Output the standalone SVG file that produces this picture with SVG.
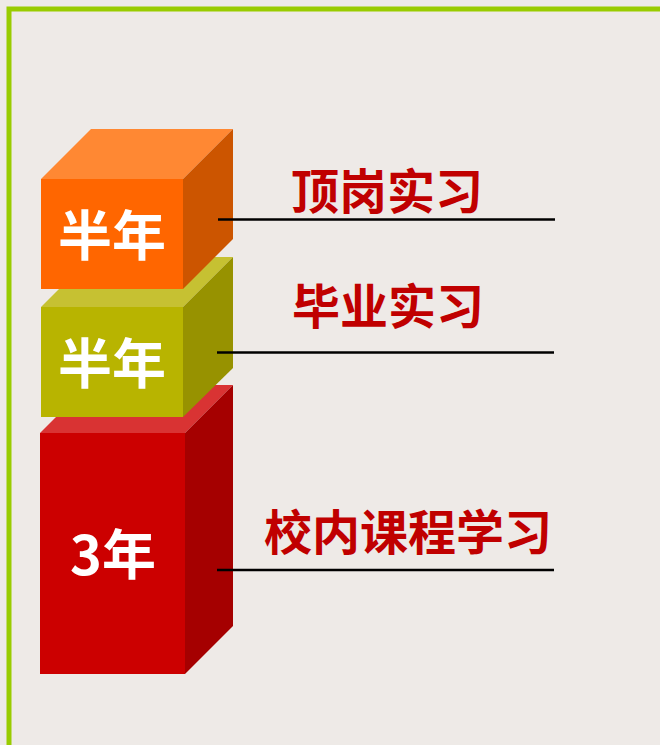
<svg xmlns="http://www.w3.org/2000/svg" width="660" height="745" viewBox="0 0 660 745">
<style>
.lbl{font-family:"Noto Sans CJK SC","Liberation Sans",sans-serif;font-weight:bold;fill:#ffffff;font-size:54px;text-anchor:middle}
.cap{font-family:"Noto Sans CJK SC","Liberation Sans",sans-serif;font-weight:bold;fill:#c00000;font-size:48px;text-anchor:middle}
.ln{stroke:#000000;stroke-width:2.5;fill:none}
</style>
<rect x="0" y="0" width="660" height="745" fill="#eeeae7"/>
<path d="M9,745 V9 H660" fill="none" stroke="#99cc00" stroke-width="5"/>
<g id="cube-red">
<polygon points="40,433 88,385 233,385 185,433" fill="#d93333"/>
<polygon points="185,433 233,385 233,626 185,674" fill="#a50000"/>
<rect x="40" y="433" width="145" height="241" fill="#cc0000"/>
<text class="lbl" x="113" y="575">3年</text>
</g>
<g id="cube-olive">
<polygon points="41,307 91,257 233,257 183,307" fill="#c6c132"/>
<polygon points="183,307 233,257 233,368 183,417" fill="#979200"/>
<rect x="41" y="307" width="142" height="110" fill="#b8b400"/>
<text class="lbl" x="112" y="384">半年</text>
</g>
<g id="cube-orange">
<polygon points="41,179 91,129 233,129 183,179" fill="#ff8833"/>
<polygon points="183,179 233,129 233,239 183,289" fill="#cc5500"/>
<rect x="41" y="179" width="142" height="110" fill="#ff6600"/>
<text class="lbl" x="112" y="256">半年</text>
</g>
<g id="connectors">
<line class="ln" x1="218" y1="219.5" x2="555" y2="219.5"/>
<line class="ln" x1="217" y1="352.5" x2="554" y2="352.5"/>
<line class="ln" x1="217" y1="570" x2="554" y2="570"/>
</g>
<g id="label-top"><text class="cap" x="387" y="209">顶岗实习</text></g>
<g id="label-mid"><text class="cap" x="388" y="324">毕业实习</text></g>
<g id="label-bottom"><text class="cap" x="408" y="550">校内课程学习</text></g>
</svg>
